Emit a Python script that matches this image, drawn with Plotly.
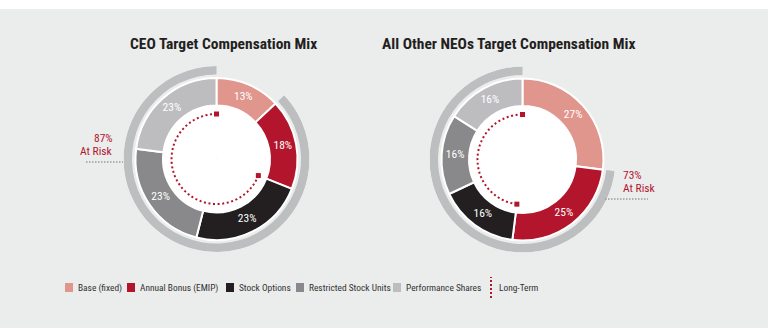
import numpy as np
import plotly.graph_objects as go

# ---------------- data ----------------
categories = ["Base (fixed)", "Annual Bonus (EMIP)", "Stock Options",
              "Restricted Stock Units", "Performance Shares"]
ceo_values = [13, 18, 23, 23, 23]
neo_values = [27, 25, 16, 16, 16]
ceo_title = "CEO Target Compensation Mix"
neo_title = "All Other NEOs Target Compensation Mix"
ceo_at_risk = 87
neo_at_risk = 73
long_term_label = "Long-Term"
at_risk_label = "At Risk"

colors = ["#e0958d", "#b3162c", "#231f20", "#89898b", "#bdbdbf"]
RED = "#b3162c"
RING_GRAY = "#bdbec0"
BG = "#ebecec"

W, H = 768, 328
COND = "Roboto Condensed"
LEG = "Roboto Condensed"

fig = go.Figure()

# radii in "pixel-like" radial units (axis range 0..93 == polar radius in px)
R_OUT, R_IN, R_RING_IN, R_RING_OUT, R_DOT, R_LAB = 81, 53.5, 84.5, 93, 45, 67.5


def dom(cx, cy, r):
    return dict(x=[(cx - r) / W, (cx + r) / W], y=[1 - (cy + r) / H, 1 - (cy - r) / H])


def add_donut(values, cx, cy, at_risk, sp):
    total = float(sum(values))
    widths = [v / total * 360 for v in values]
    starts = np.concatenate([[0], np.cumsum(widths)[:-1]])
    mids = starts + np.array(widths) / 2
    # white centre disk (overlapping sectors to avoid seams)
    fig.add_trace(go.Barpolar(r=[R_IN + 1] * 3, base=[0] * 3, theta=[60, 180, 300], width=[130] * 3,
                              marker=dict(color="white", line=dict(width=0)),
                              subplot=sp, hoverinfo="skip", showlegend=False))
    # outer at-risk ring
    risk_start = (100 - at_risk) / 100 * 360
    fig.add_trace(go.Barpolar(r=[R_RING_OUT - R_RING_IN], base=[R_RING_IN],
                              theta=[(risk_start + 360) / 2], width=[360 - risk_start],
                              marker=dict(color=RING_GRAY, line=dict(width=0)),
                              subplot=sp, hoverinfo="skip", showlegend=False))
    # main donut slices
    fig.add_trace(go.Barpolar(r=[R_OUT - R_IN] * len(values), base=[R_IN] * len(values),
                              theta=mids, width=widths,
                              marker=dict(color=colors, line=dict(color="white", width=2)),
                              customdata=categories, hovertemplate="%{customdata}<extra></extra>",
                              subplot=sp, showlegend=False))
    # slice labels
    fig.add_trace(go.Scatterpolar(r=[R_LAB] * len(values), theta=mids, mode="text",
                                  text=[f"{v}%" for v in values],
                                  textfont=dict(color="white", size=11.5, family=COND),
                                  subplot=sp, hoverinfo="skip", showlegend=False))
    # long-term dotted arc
    lt_start = (values[0] + values[1]) / total * 360
    th = np.linspace(lt_start, 360, 200)
    fig.add_trace(go.Scatterpolar(r=[R_DOT] * len(th), theta=th, mode="lines", subplot=sp,
                                  line=dict(color=RED, width=2, dash="2px,2.6px"),
                                  hoverinfo="skip", showlegend=False))
    fig.add_trace(go.Scatterpolar(r=[R_DOT, R_DOT], theta=[lt_start, 360], mode="markers", subplot=sp,
                                  marker=dict(color=RED, size=5, symbol="square"),
                                  hoverinfo="skip", showlegend=False))
    return dict(domain=dom(cx, cy, R_RING_OUT), bgcolor="rgba(0,0,0,0)", bargap=0,
                radialaxis=dict(visible=False, range=[0, R_RING_OUT]),
                angularaxis=dict(visible=False, rotation=90, direction="clockwise"))


p1 = add_donut(ceo_values, 216.5, 159, ceo_at_risk, "polar")
p2 = add_donut(neo_values, 522.5, 159.5, neo_at_risk, "polar2")

shapes = [dict(type="rect", xref="paper", yref="paper", x0=0, x1=1, y0=0, y1=1 - 9 / H,
               fillcolor=BG, line=dict(width=0), layer="below")]
annotations = []


def ann(x, y, text, size, color, family, xanchor="center"):
    annotations.append(dict(x=x / W, y=1 - y / H, xref="paper", yref="paper", text=text,
                            showarrow=False, xanchor=xanchor, yanchor="middle",
                            font=dict(size=size, color=color, family=family)))


ann(223, 44, f"<b>{ceo_title}</b>", 15.5, "#231f20", COND)
ann(508, 44, f"<b>{neo_title}</b>", 15.5, "#231f20", COND)

# at risk labels
ann(115, 138, f"{ceo_at_risk}%", 11.5, RED, COND, xanchor="right")
ann(115, 151, at_risk_label, 11.5, RED, COND, xanchor="right")
shapes.append(dict(type="line", xref="paper", yref="paper", x0=86 / W, x1=123 / W,
                   y0=1 - 162 / H, y1=1 - 162 / H,
                   line=dict(color="#9a9a9a", width=1.5, dash="1.5px,1.5px")))
ann(621, 175, f"{neo_at_risk}%", 11.5, RED, COND, xanchor="left")
ann(621, 188, at_risk_label, 11.5, RED, COND, xanchor="left")
shapes.append(dict(type="line", xref="paper", yref="paper", x0=605 / W, x1=648 / W,
                   y0=1 - 199 / H, y1=1 - 199 / H,
                   line=dict(color="#9a9a9a", width=1.5, dash="1.5px,1.5px")))

# legend
sq_x = [65, 127, 226, 296, 393]
for i, (c, lab) in enumerate(zip(colors, categories)):
    x0 = sq_x[i]
    shapes.append(dict(type="rect", xref="paper", yref="paper", x0=x0 / W, x1=(x0 + 8) / W,
                       y0=1 - 292 / H, y1=1 - 283 / H, fillcolor=c, line=dict(width=0)))
    ann(x0 + 10.5, 287.5, lab, 9.4, "#333333", LEG, xanchor="left")
shapes.append(dict(type="line", xref="paper", yref="paper", x0=491 / W, x1=491 / W,
                   y0=1 - 298 / H, y1=1 - 277 / H, line=dict(color=RED, width=2, dash="2px,2px")))
ann(496.5, 287.5, long_term_label, 9.4, "#333333", LEG, xanchor="left")

fig.update_layout(width=W, height=H, margin=dict(l=0, r=0, t=0, b=0),
                  paper_bgcolor="white", plot_bgcolor="rgba(0,0,0,0)",
                  polar=p1, polar2=p2, shapes=shapes, annotations=annotations,
                  showlegend=False)

fig.write_html("out.html")
